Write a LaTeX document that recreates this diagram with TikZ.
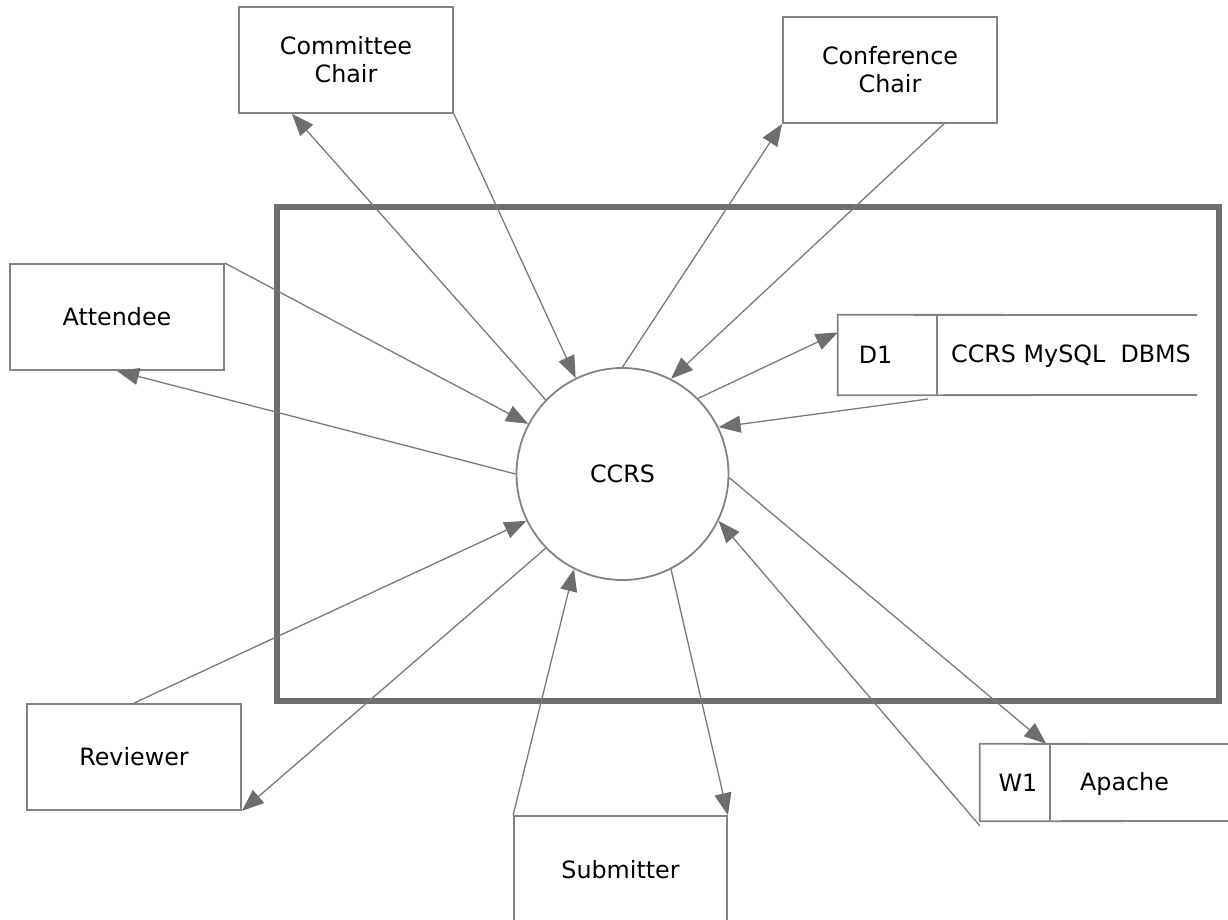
\documentclass[tikz,border=0pt]{standalone}
\usepackage{fontspec}
\setmainfont{DejaVu Sans}
\usetikzlibrary{arrows.meta,calc}
\definecolor{edgegray}{HTML}{7A7A7A}
\definecolor{boxgray}{HTML}{838383}
\definecolor{framegray}{HTML}{6E6E6E}
\definecolor{tipgray}{HTML}{6E6E6E}
\begin{document}
\begin{tikzpicture}[x=1pt,y=-1pt,
  every node/.style={font=\fontsize{23.8}{28}\selectfont, inner sep=0pt},
  entity/.style={draw=boxgray, line width=1.8pt, minimum width=214pt, minimum height=106pt, align=center},
  process/.style={circle, draw=boxgray, line width=1.8pt, minimum size=212pt},
  flow/.style={draw=edgegray, line width=1.3pt, -{Triangle[length=22pt,width=17pt,fill=tipgray,color=tipgray]}},
  storeline/.style={draw=boxgray, line width=1.8pt}
]
\useasboundingbox (0,0) rectangle (1228,919);

% system boundary
\draw[framegray, line width=6pt] (277,207) rectangle (1219,701);

% central process
\node[process] (ccrs) at (622.5,474) {CCRS};

% external entities
\node[entity] (comm) at (346,60) {Committee\\Chair};
\node[entity] (conf) at (890,70) {Conference\\Chair};
\node[entity] (att) at (117,317) {Attendee};
\node[entity] (rev) at (134,757) {Reviewer};
\node[draw=boxgray, line width=1.8pt, minimum width=213pt, minimum height=112pt] (sub) at (620.5,872) {};
\node at (620.5,870) {Submitter};

% data store D1
\node[minimum width=99pt, minimum height=80pt] (d1) at (887.5,355) {\hspace*{-24pt}D1};
\node[anchor=west] (d1t) at (951,356) {CCRS MySQL\ \ DBMS};
\draw[storeline] (1197,315) -- (d1.north west) -- (d1.south west) -- (1197,395);
\draw[storeline] (d1.north east) -- (d1.south east);

% web server W1
\node[minimum width=70pt, minimum height=77pt] (w1) at (1015,782.5) {\hspace*{6pt}W1};
\node (w1t) at (1124.5,784) {Apache};
\draw[storeline] (1230,744) -- (w1.north west) -- (w1.south west) -- (1230,821);
\draw[storeline] (w1.north east) -- (w1.south east);

% free ends of flows that stop near a store
\coordinate (d1in) at (928,399);
\coordinate (w1out) at (980,826);

% data flows
\draw[flow] (ccrs.136) -- ($(comm.south west)!0.25!(comm.south east)$);
\draw[flow] (comm.south east) -- (ccrs.116);
\draw[flow] (ccrs.90) -- (conf.south west);
\draw[flow] ($(conf.south west)!0.75!(conf.south east)$) -- (ccrs.63);
\draw[flow] (att.north east) -- (ccrs.152);
\draw[flow] (ccrs.180) -- (att.south);
\draw[flow] (rev.north) -- (ccrs.206);
\draw[flow] (ccrs.224) -- (rev.south east);
\draw[flow] (sub.north west) -- (ccrs.243);
\draw[flow] (ccrs.297) -- (sub.north east);
\draw[flow] (ccrs.45) -- ($(d1.north west)!0.22!(d1.south west)$);
\draw[flow] (d1in) -- (ccrs.26);
\draw[flow] (ccrs.358) -- ($(w1.north east)+(-4,0)$);
\draw[flow] (w1out) -- (ccrs.334);
\end{tikzpicture}
\end{document}
